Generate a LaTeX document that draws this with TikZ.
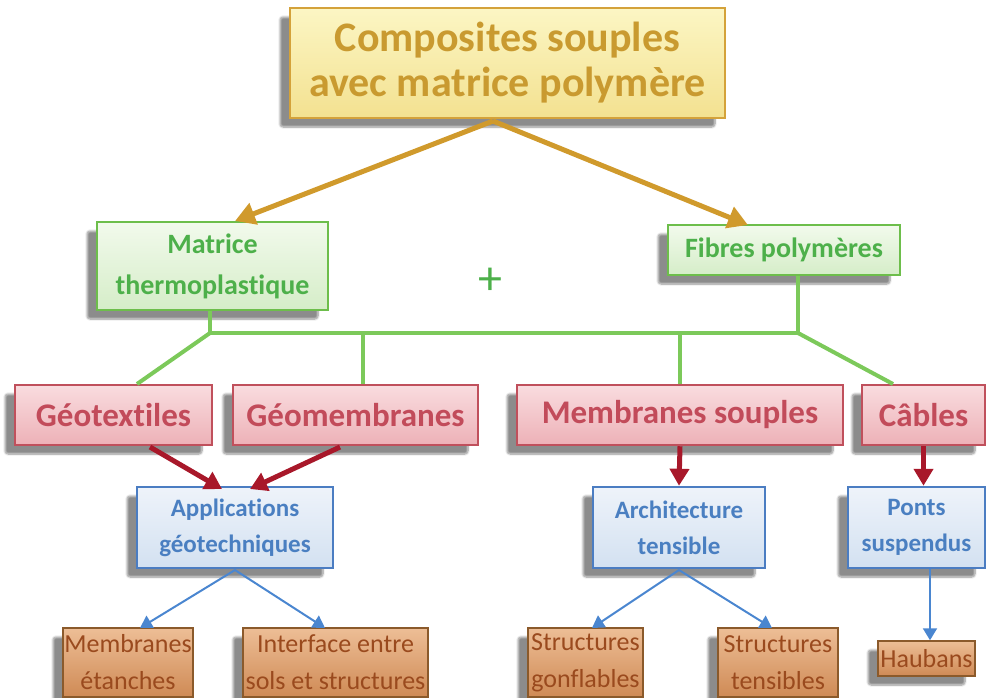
\documentclass[tikz,border=0pt]{standalone}
\usepackage{fontspec}
\setmainfont{Carlito}[Ligatures=NoCommon]
\usetikzlibrary{arrows.meta,shadows.blur}
\definecolor{goldB}{HTML}{D4A23A}
\definecolor{goldT}{HTML}{C99A30}
\definecolor{goldF1}{HTML}{FCF6C4}
\definecolor{goldF2}{HTML}{F3E190}
\definecolor{goldA}{HTML}{D09A2C}
\definecolor{greenB}{HTML}{6DBE4B}
\definecolor{greenT}{HTML}{4DB04A}
\definecolor{greenF1}{HTML}{F2FAEC}
\definecolor{greenF2}{HTML}{D5EDC8}
\definecolor{greenL}{HTML}{7CC95A}
\definecolor{pinkB}{HTML}{C0505C}
\definecolor{pinkT}{HTML}{C24B5A}
\definecolor{pinkF1}{HTML}{F9DCDF}
\definecolor{pinkF2}{HTML}{EDB1B7}
\definecolor{redA}{HTML}{A8182A}
\definecolor{blueB}{HTML}{4B7DC2}
\definecolor{blueT}{HTML}{4A7FC1}
\definecolor{blueF1}{HTML}{EEF3FA}
\definecolor{blueF2}{HTML}{D3E1F1}
\definecolor{blueA}{HTML}{4A86D0}
\definecolor{orB}{HTML}{8B5A2B}
\definecolor{orT}{HTML}{9A4A1E}
\definecolor{orF1}{HTML}{EDBE96}
\definecolor{orF2}{HTML}{CF8A55}
\tikzset{
  box/.style={rectangle, inner sep=0pt, align=center, line width=2.5pt,
    blur shadow={shadow xshift=-10pt, shadow yshift=-9pt, shadow blur steps=8, shadow blur extra rounding=3pt, shadow opacity=45}},
  topbox/.style={box, draw=goldB, top color=goldF1, bottom color=goldF2, text=goldT,
    font=\bfseries\fontsize{42}{45}\selectfont},
  greenbox/.style={box, draw=greenB, top color=greenF1, bottom color=greenF2, text=greenT,
    font=\bfseries\fontsize{28}{41}\selectfont},
  pinkbox/.style={box, draw=pinkB, top color=pinkF1, bottom color=pinkF2, text=pinkT,
    font=\bfseries\fontsize{33}{36}\selectfont},
  bluebox/.style={box, draw=blueB, top color=blueF1, bottom color=blueF2, text=blueT,
    font=\bfseries\fontsize{25}{36}\selectfont},
  orbox/.style={box, line width=1.5pt, draw=orB, top color=orF1, bottom color=orF2, text=orT,
    font=\fontsize{26}{37}\selectfont},
  goldarrow/.style={draw=goldA, line width=5pt, -{Triangle[length=20pt,width=22pt]}},
  redarrow/.style={draw=redA, line width=5pt, -{Triangle[length=17pt,width=19pt]}},
  bluearrow/.style={draw=blueA, line width=2pt, -{Triangle[length=12pt,width=14pt]}},
  greenline/.style={draw=greenL, line width=4pt},
}
\begin{document}
\begin{tikzpicture}[x=1pt,y=-1pt]
\useasboundingbox (0,0) rectangle (991,697);
% level 0
\node[topbox, minimum width=435pt, minimum height=110pt] (top) at (507.5,63) {Composites souples\\avec matrice polymère};
% level 1
\node[greenbox, minimum width=231pt, minimum height=88pt] (mat) at (212.5,266) {Matrice\\thermoplastique};
\node[greenbox, minimum width=232pt, minimum height=50pt] (fib) at (784,250) {Fibres polymères};
\node[text=greenT, font=\fontsize{48}{48}\selectfont] (plus) at (490,281) {+};
% level 2
\node[pinkbox, minimum width=197pt, minimum height=60pt] (geot) at (113.5,415) {Géotextiles};
\node[pinkbox, minimum width=245pt, minimum height=60pt] (geom) at (355.5,415) {Géomembranes};
\node[pinkbox, minimum width=326pt, minimum height=60pt] (mem) at (680,415) {Membranes souples};
\node[pinkbox, minimum width=123pt, minimum height=60pt] (cab) at (923.5,415) {Câbles};
% level 3
\node[bluebox, minimum width=196pt, minimum height=81pt] (app) at (235,527.5) {Applications\\géotechniques};
\node[bluebox, minimum width=172pt, minimum height=81pt] (arch) at (679,527.5) {Architecture\\tensible};
\node[bluebox, minimum width=137pt, minimum height=81pt] (ponts) at (916.5,527.5) {Ponts\\suspendus};
% level 4
\node[orbox, minimum width=130pt, minimum height=69pt] (etan) at (128,662.5) {Membranes\\étanches};
\node[orbox, minimum width=185pt, minimum height=69pt] (inter) at (335.5,662.5) {Interface entre\\sols et structures};
\node[orbox, minimum width=115pt, minimum height=69pt] (gonf) at (585.5,662.5) {Structures\\gonflables};
\node[orbox, minimum width=120pt, minimum height=69pt] (tens) at (778,662.5) {Structures\\tensibles};
\node[orbox, minimum width=97pt, minimum height=35pt] (haub) at (926.5,658.5) {Haubans};
% gold arrows
\coordinate (apex) at (493,121);
\draw[goldarrow] (apex) -- (235,221);
\draw[goldarrow] (apex) -- (748,225);
% green connectors
\coordinate (jl) at (210,333);
\coordinate (jr) at (798,333);
\draw[greenline] (mat.south -| jl) -- (jl) -- (jr) -- (fib.south -| jr);
\draw[greenline] (jl) -- (137,384);
\draw[greenline] (363,333) -- (geom.north -| 363,0);
\draw[greenline] (680,333) -- (mem.north);
\draw[greenline] (jr) -- (893,384);
% red arrows
\draw[redarrow] (150,447) -- (222,489);
\draw[redarrow] (340,447) -- (250,489);
\draw[redarrow] (mem.south) -- (arch.north);
\draw[redarrow] (cab.south) -- (cab.south |- ponts.north);
% blue arrows
\draw[bluearrow] (235,570) -- (140,628);
\draw[bluearrow] (235,570) -- (325,628);
\draw[bluearrow] (679,570) -- (592,628);
\draw[bluearrow] (679,570) -- (772,628);
\draw[bluearrow] (ponts.south -| 930,0) -- (haub.north -| 930,0);
\end{tikzpicture}
\end{document}
